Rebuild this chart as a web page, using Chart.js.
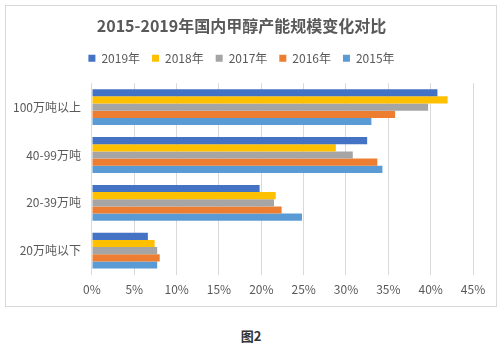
<!DOCTYPE html>
<html>
<head>
<meta charset="utf-8">
<script src="https://cdn.jsdelivr.net/npm/chart.js@4/dist/chart.umd.min.js"></script>
<style>
  html, body { margin: 0; padding: 0; background: #fff; }
  body { width: 502px; height: 347px; position: relative; overflow: hidden; }
  #box { position: absolute; left: 5px; top: 5px; width: 490px; height: 300px; border: 1px solid #d9d9d9; }
  #caption { position: absolute; left: 0; width: 502px; top: 326px; text-align: center;
    font: bold 13px "Noto Sans CJK SC", sans-serif; color: #333; }
</style>
</head>
<body>
<div id="box"><canvas id="chart" width="490" height="300"></canvas></div>
<div id="caption">图2</div>
<script>
const categories = ['100万吨以上', '40-99万吨', '20-39万吨', '20万吨以下'];
const years = ['2019年', '2018年', '2017年', '2016年', '2015年'];
const share2019 = [40.8, 32.5, 19.8, 6.6];
const share2018 = [42.0, 28.8, 21.7, 7.4];
const share2017 = [39.7, 30.8, 21.5, 7.7];
const share2016 = [35.8, 33.7, 22.4, 8.0];
const share2015 = [33.0, 34.3, 24.8, 7.7];
const colors = ['#4472c4', '#ffc000', '#a5a5a5', '#ed7d31', '#5b9bd5'];

const series = [share2019, share2018, share2017, share2016, share2015];
const font = '"Noto Sans CJK SC", "Noto Sans", sans-serif';

// extra room under the legend
const legendGap = {
    id: 'legendGap',
    afterInit(chart) {
        const fit = chart.legend.fit;
        chart.legend.fit = function () {
            fit.call(this);
            this.height += 9;
        };
    }
};

const ctx = document.getElementById('chart').getContext('2d');
new Chart(ctx, {
    type: 'bar',
    data: {
        labels: categories,
        datasets: series.map((vals, i) => ({
            label: years[i],
            data: vals,
            backgroundColor: colors[i],
            categoryPercentage: 0.75,
            barPercentage: 1.0
        }))
    },
    plugins: [legendGap],
    options: {
        indexAxis: 'y',
        responsive: false,
        animation: false,
        layout: { padding: { left: 4, right: 23, top: 6, bottom: 1 } },
        plugins: {
            title: {
                display: true,
                text: '2015-2019年国内甲醇产能规模变化对比',
                color: '#595959',
                font: { family: font, size: 16, weight: 'bold' },
                padding: { top: 4, bottom: 5 }
            },
            legend: {
                position: 'top',
                labels: {
                    boxWidth: 7, boxHeight: 7,
                    color: '#595959',
                    font: { family: font, size: 12 },
                    padding: 12
                }
            },
            tooltip: { enabled: false }
        },
        scales: {
            x: {
                min: 0, max: 45,
                ticks: {
                    stepSize: 5,
                    padding: 8,
                    color: '#595959',
                    font: { family: font, size: 12 },
                    callback: v => v + '%'
                },
                grid: { color: '#d9d9d9', lineWidth: 1, drawTicks: false },
                border: { display: false }
            },
            y: {
                ticks: { color: '#595959', font: { family: font, size: 12 } },
                grid: { display: false },
                border: { display: false }
            }
        }
    }
});
</script>
</body>
</html>
